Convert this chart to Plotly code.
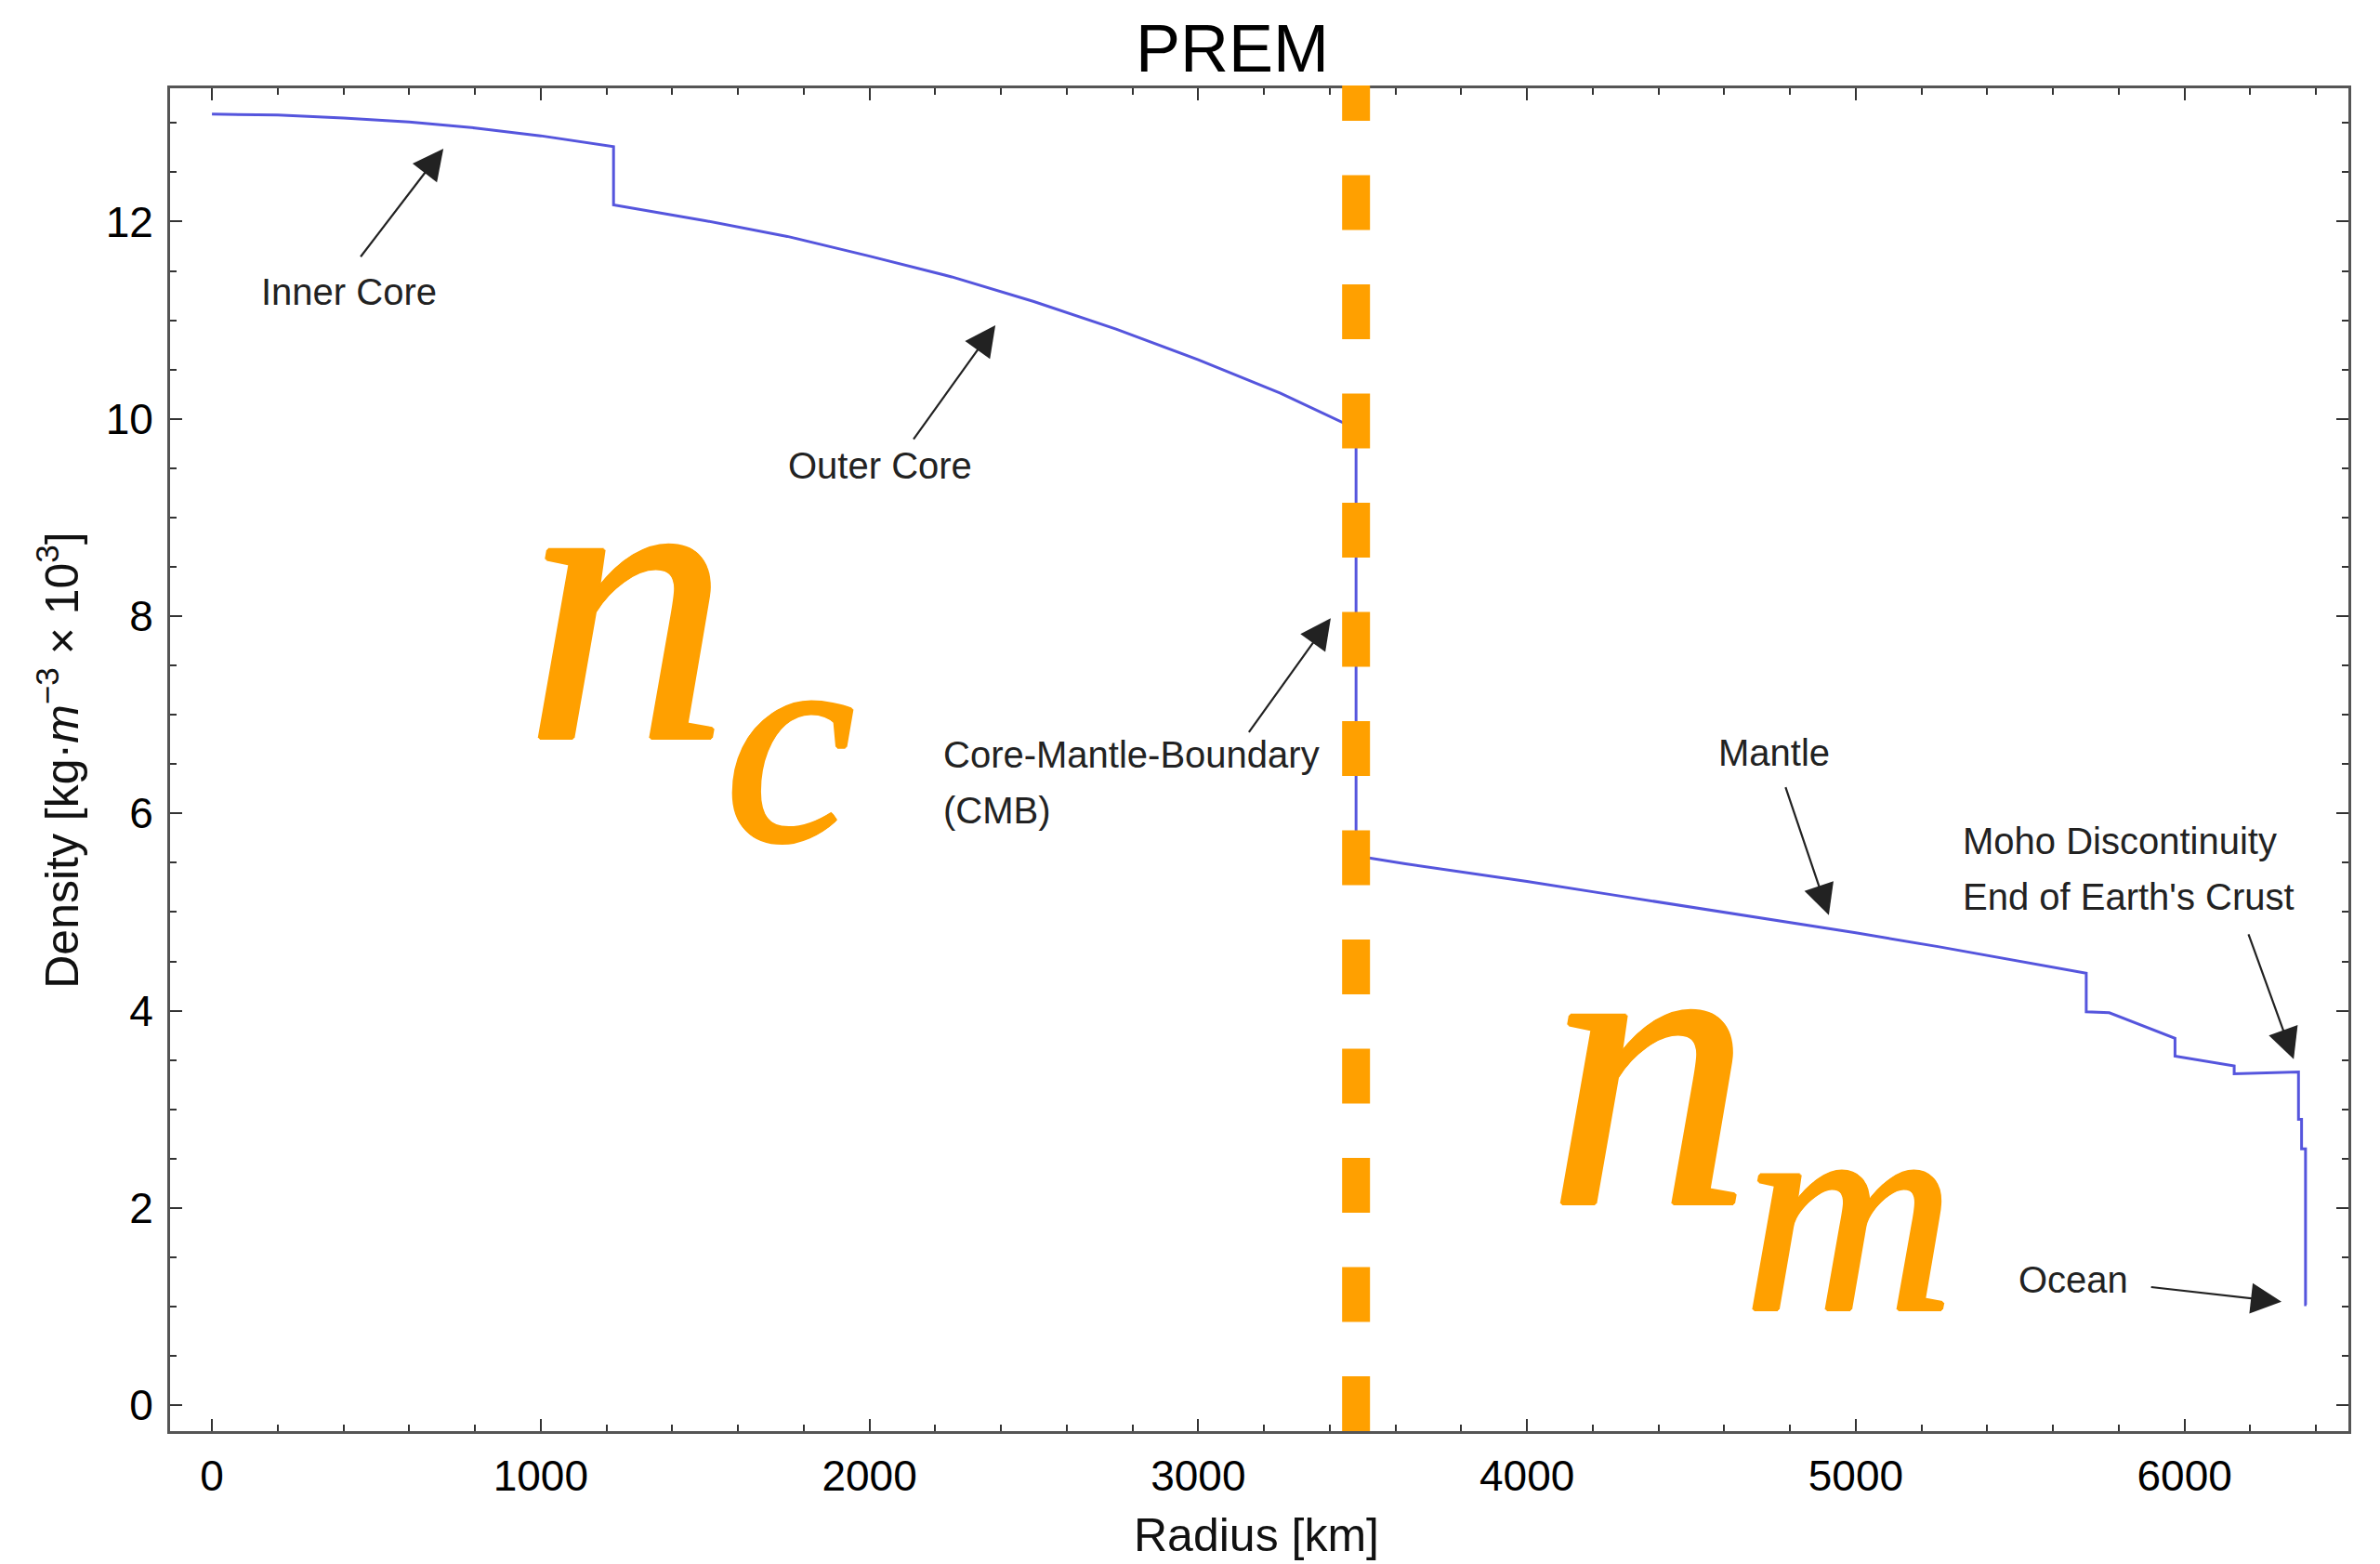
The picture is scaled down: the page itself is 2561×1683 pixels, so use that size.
import plotly.graph_objects as go

# ---------------- data ----------------
radius_km = [0, 200, 400, 600, 800, 1000, 1221.5,
             1221.5, 1500, 1750, 2000, 2250, 2500, 2750, 3000, 3250, 3480,
             3480, 3630, 4000, 4250, 4500, 4750, 5000, 5250, 5600, 5701,
             5701, 5771, 5971,
             5971, 6151,
             6151, 6346.6,
             6346.6, 6356,
             6356, 6368,
             6368, 6371]
density = [13.09, 13.08, 13.05, 13.01, 12.95, 12.87, 12.76,
           12.17, 12.01, 11.85, 11.65, 11.44, 11.19, 10.91, 10.60, 10.26, 9.90,
           5.57, 5.49, 5.31, 5.18, 5.05, 4.92, 4.79, 4.65, 4.44, 4.38,
           3.99, 3.98, 3.72,
           3.54, 3.44,
           3.36, 3.38,
           2.90, 2.90,
           2.60, 2.60,
           1.02, 1.02]

cmb_radius = 3480
x_tick_vals = [0, 1000, 2000, 3000, 4000, 5000, 6000]
y_tick_vals = [0, 2, 4, 6, 8, 10, 12]

title_text = "PREM"
x_title = "Radius [km]"
y_title = "Density [kg·<i>m</i><sup>−3</sup> × 10<sup>3</sup>]"

# ---------------- figure ----------------
W, H = 2561, 1683
ML, MR, MT, MB = 183, 34, 95, 143

pad_x = 0.02 * max(radius_km)
x_range = [min(radius_km) - pad_x, max(radius_km) + pad_x]
pad_y = 0.02 * max(density)
y_range = [0 - pad_y, max(density) + pad_y]

BLUE = "#5555DD"
ORANGE = "#FFA000"
FONT = "Liberation Sans, Arial, sans-serif"
SERIF = "Liberation Serif, Times New Roman, serif"
THICK = ", ".join(f"{dx}px {dy}px 0 {ORANGE}" for dx, dy in
                  [(2, 0), (-2, 0), (0, 2), (0, -2), (1, 1), (-1, -1), (1, -1), (-1, 1)])

fig = go.Figure()
fig.add_trace(go.Scatter(x=radius_km, y=density, mode="lines",
                         line=dict(color=BLUE, width=3), showlegend=False,
                         hoverinfo="skip"))

axis_common = dict(showgrid=False, zeroline=False, showline=True,
                   linecolor="#555555", linewidth=3, mirror="allticks",
                   ticks="inside", ticklen=13, tickwidth=2, tickcolor="#333333",
                   tickfont=dict(family=FONT, size=46, color="black"),
                   ticklabelstandoff=6)

fig.update_xaxes(range=x_range, tickvals=x_tick_vals, **axis_common,
                 minor=dict(ticks="inside", dtick=200, ticklen=7, tickwidth=2,
                            tickcolor="#333333"))
fig.update_yaxes(range=y_range, tickvals=y_tick_vals, **axis_common,
                 minor=dict(ticks="inside", dtick=0.5, ticklen=7, tickwidth=2,
                            tickcolor="#333333"))

# CMB dashed boundary line (paper-referenced so it is not clipped)
cmb_paper = (cmb_radius - x_range[0]) / (x_range[1] - x_range[0])
fig.add_shape(type="line", xref="paper", yref="paper",
              x0=cmb_paper, x1=cmb_paper, y0=0.0, y1=1.002,
              line=dict(color=ORANGE, width=30, dash="59px,58.5px"),
              layer="above")

ann = []
text_font = dict(family=FONT, size=40, color="#222222")

# labels: (text, x, y, xanchor)
labels = [
    ("Inner Core", 418, 11.29, "center"),
    ("Outer Core", 2032, 9.53, "center"),
    ("Core-Mantle-Boundary", 2219, 6.60, "left"),
    ("(CMB)", 2219, 6.03, "left"),
    ("Mantle", 4751, 6.62, "center"),
    ("Moho Discontinuity", 5320, 5.72, "left"),
    ("End of Earth's Crust", 5320, 5.16, "left"),
    ("Ocean", 5662, 1.27, "center"),
]
for t, x, y, xa in labels:
    ann.append(dict(text=t, x=x, y=y, xref="x", yref="y", xanchor=xa,
                    yanchor="middle", showarrow=False, font=text_font))

# arrows: (tail_x, tail_y, head_x, head_y)
arrows = [
    (449, 11.63, 704, 12.74),
    (2131, 9.78, 2383, 10.95),
    (3151, 6.81, 3403, 7.98),
    (4785, 6.28, 4918, 4.97),
    (6193, 4.79, 6332, 3.51),
    (5894, 1.20, 6295, 1.05),
]
for tx, ty, hx, hy in arrows:
    ann.append(dict(text="", x=hx, y=hy, xref="x", yref="y",
                    ax=tx, ay=ty, axref="x", ayref="y",
                    showarrow=True, arrowhead=2, arrowsize=3,
                    arrowwidth=2.2, arrowcolor="#222222", standoff=0))

# big orange symbols
big = [
    ("<i>n</i>", 1263, 8.17, 440),
    ("<i>c</i>", 1758, 6.73, 315),
    ("<i>n</i>", 4373, 3.45, 440),
    ("<i>m</i>", 4980, 1.98, 315),
]
for t, x, y, s in big:
    ann.append(dict(text=t, x=x, y=y, xref="x", yref="y", xanchor="center",
                    yanchor="middle", showarrow=False,
                    font=dict(family=SERIF, size=s, color=ORANGE, shadow=THICK)))

# axis titles as annotations
ann.append(dict(text=x_title, x=0.4987, y=-0.0775, xref="paper", yref="paper",
                xanchor="center", yanchor="middle", showarrow=False,
                font=dict(family=FONT, size=50, color="#111111")))
ann.append(dict(text=y_title, x=-0.0515, y=0.5, xref="paper", yref="paper",
                xanchor="center", yanchor="middle", showarrow=False,
                textangle=-90,
                font=dict(family=FONT, size=50, color="#111111")))

fig.update_layout(
    width=W, height=H, autosize=False,
    margin=dict(l=ML, r=MR, t=MT, b=MB, pad=0),
    paper_bgcolor="white", plot_bgcolor="white",
    title=dict(text=title_text, x=0.4876, xref="paper", y=1 - 52 / H,
               yref="container", xanchor="center", yanchor="middle",
               font=dict(family=FONT, size=72, color="black")),
    annotations=ann,
    showlegend=False,
)

fig.write_html("out.html", config={"displayModeBar": False},
               post_script="document.body.style.margin='0';document.body.style.overflow='hidden';")
